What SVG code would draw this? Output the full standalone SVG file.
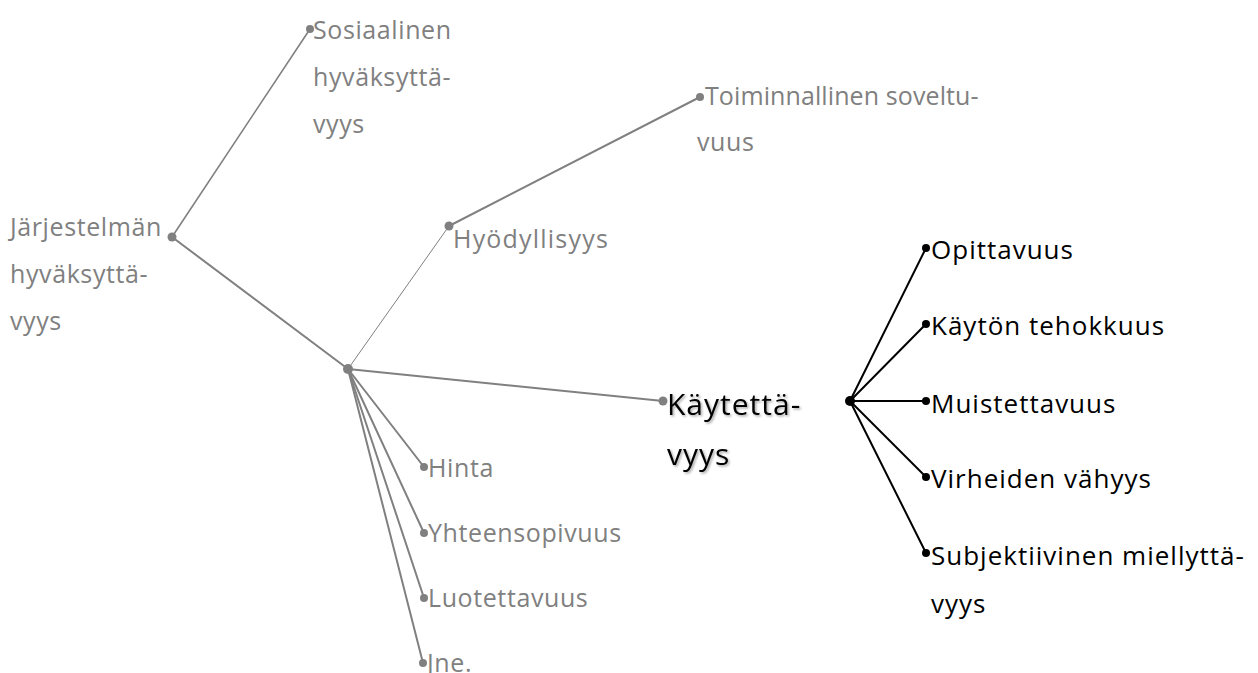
<svg xmlns="http://www.w3.org/2000/svg" width="1258" height="673" viewBox="0 0 1258 673">
<defs>
<style>
.t{font-family:"Open Sans","Liberation Sans",sans-serif;font-size:25px;letter-spacing:0.6px}
.g{fill:#808080}
.k{fill:#000}
.r{font-size:26px;letter-spacing:1px}
.big{font-size:30px;letter-spacing:1px}
.lg{stroke:#808080;fill:none;stroke-linecap:round}
.lk{stroke:#000;stroke-width:2;fill:none;stroke-linecap:round}
.dg{fill:#808080}
.dk{fill:#000}
</style>
<filter id="sh" x="-10%" y="-10%" width="130%" height="140%">
<feDropShadow dx="1.5" dy="1.5" stdDeviation="0.8" flood-color="#000" flood-opacity="0.35"/>
</filter>
</defs>
<rect width="1258" height="673" fill="#fff"/>
<g id="connectors">
<line class="lg" stroke-width="1.6" x1="172" y1="237" x2="310" y2="29"/>
<line class="lg" stroke-width="2" x1="172" y1="237" x2="348" y2="369"/>
<line class="lg" stroke-width="1" x1="348" y1="369" x2="449" y2="226"/>
<line class="lg" stroke-width="2" x1="449" y1="226" x2="700" y2="97"/>
<line class="lg" stroke-width="2" x1="348" y1="369" x2="663" y2="401"/>
<line class="lg" stroke-width="2" x1="348" y1="369" x2="424" y2="467"/>
<line class="lg" stroke-width="2" x1="348" y1="369" x2="424" y2="533"/>
<line class="lg" stroke-width="2" x1="348" y1="369" x2="424" y2="598"/>
<line class="lg" stroke-width="2" x1="348" y1="369" x2="423" y2="663"/>
<line class="lk" x1="850" y1="401" x2="926" y2="248"/>
<line class="lk" x1="850" y1="401" x2="926" y2="324"/>
<line class="lk" x1="850" y1="401" x2="926" y2="401"/>
<line class="lk" x1="850" y1="401" x2="926" y2="477"/>
<line class="lk" x1="850" y1="401" x2="926" y2="553"/>
</g>
<g id="node-root">
<circle class="dg" cx="172" cy="237" r="4.5"/>
<text class="t g" x="10" y="236">Järjestelmän</text>
<text class="t g" x="10" y="283">hyväksyttä-</text>
<text class="t g" x="10" y="330">vyys</text>
</g>
<g id="node-sosiaalinen">
<circle class="dg" cx="310" cy="29" r="4"/>
<text class="t g" x="313" y="39">Sosiaalinen</text>
<text class="t g" x="313" y="86">hyväksyttä-</text>
<text class="t g" x="313" y="133">vyys</text>
</g>
<g id="node-hub">
<circle class="dg" cx="348" cy="369" r="5"/>
</g>
<g id="node-hyodyllisyys">
<circle class="dg" cx="449" cy="226" r="4.5"/>
<text class="t g" x="453" y="248" style="letter-spacing:1.2px">Hyödyllisyys</text>
</g>
<g id="node-toiminnallinen">
<circle class="dg" cx="700" cy="97" r="4"/>
<text class="t g" x="705" y="105" style="letter-spacing:0.1px">Toiminnallinen soveltu-</text>
<text class="t g" x="697" y="151">vuus</text>
</g>
<g id="node-kaytettavyys">
<circle class="dg" cx="663" cy="401" r="4.5"/>
<text class="t k big" x="667" y="415" filter="url(#sh)">Käytettä-</text>
<text class="t k big" x="667" y="465" filter="url(#sh)">vyys</text>
</g>
<g id="node-hinta">
<circle class="dg" cx="424" cy="467" r="4"/>
<text class="t g" x="428" y="477">Hinta</text>
</g>
<g id="node-yhteensopivuus">
<circle class="dg" cx="424" cy="533" r="4"/>
<text class="t g" x="428" y="542">Yhteensopivuus</text>
</g>
<g id="node-luotettavuus">
<circle class="dg" cx="424" cy="598" r="4"/>
<text class="t g" x="428" y="607">Luotettavuus</text>
</g>
<g id="node-jne">
<circle class="dg" cx="423" cy="663" r="4"/>
<text class="t g" x="427" y="672">Jne.</text>
</g>
<g id="node-hub2">
<circle class="dk" cx="850" cy="401" r="5"/>
</g>
<g id="node-opittavuus">
<circle class="dk" cx="926" cy="248" r="4"/>
<text class="t k r" x="931" y="259">Opittavuus</text>
</g>
<g id="node-kayton">
<circle class="dk" cx="926" cy="324" r="4"/>
<text class="t k r" x="931" y="335">Käytön tehokkuus</text>
</g>
<g id="node-muistettavuus">
<circle class="dk" cx="926" cy="401" r="4"/>
<text class="t k r" x="931" y="413">Muistettavuus</text>
</g>
<g id="node-virheiden">
<circle class="dk" cx="926" cy="477" r="4"/>
<text class="t k r" x="931" y="488">Virheiden vähyys</text>
</g>
<g id="node-subjektiivinen">
<circle class="dk" cx="926" cy="553" r="4"/>
<text class="t k r" x="931" y="565">Subjektiivinen miellyttä-</text>
<text class="t k r" x="931" y="613">vyys</text>
</g>
</svg>
